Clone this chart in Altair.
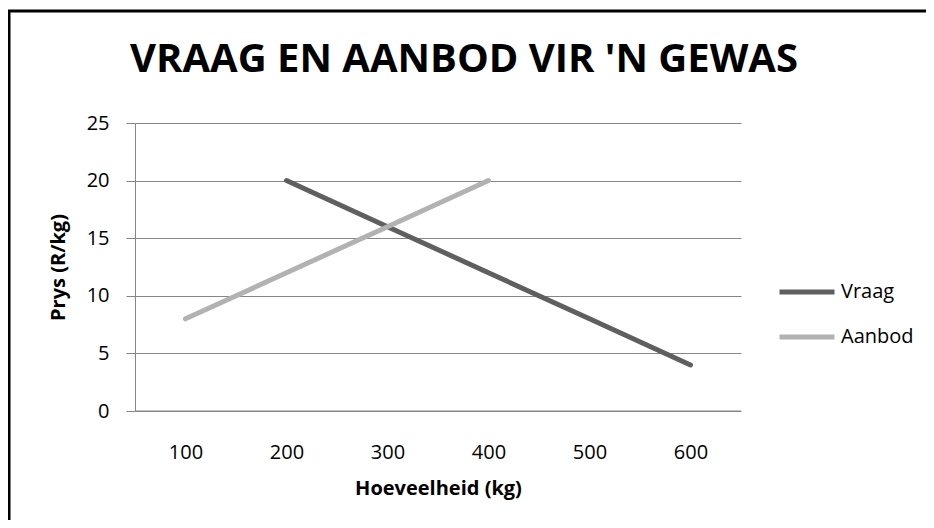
import altair as alt
import pandas as pd

categories = ["100", "200", "300", "400", "500", "600"]
vraag_x = ["200", "300", "400", "500", "600"]
vraag_y = [20, 16, 12, 8, 4]
aanbod_x = ["100", "200", "300", "400"]
aanbod_y = [8, 12, 16, 20]
series = ["Vraag", "Aanbod"]
colors = ["#5f5f5f", "#b2b2b2"]
title_text = "VRAAG EN AANBOD VIR 'N GEWAS"

rows = []
for x, y in zip(vraag_x, vraag_y):
    rows.append({"q": x, "p": y, "s": "Vraag"})
for x, y in zip(aanbod_x, aanbod_y):
    rows.append({"q": x, "p": y, "s": "Aanbod"})
df = pd.DataFrame(rows)

FONT = "Open Sans"
FS = 20

lines = alt.Chart(df).mark_line(strokeWidth=5, strokeCap="round").encode(
    x=alt.X("q:O", sort=categories, scale=alt.Scale(domain=categories, paddingInner=0, paddingOuter=0.5),
            axis=alt.Axis(title="Hoeveelheid (kg)", labelAngle=0, ticks=False, domain=False,
                          labelPadding=31, titlePadding=16, labelFontSize=FS, titleFontSize=FS,
                          titleFontWeight="bold", labelColor="#000", titleColor="#000",
                          labelFont=FONT, titleFont=FONT)),
    y=alt.Y("p:Q", scale=alt.Scale(domain=[0, 25], nice=False),
            axis=alt.Axis(title="Prys (R/kg)", values=[0, 5, 10, 15, 20, 25], tickSize=9,
                          tickColor="#868686", domainColor="#868686", gridColor="#868686",
                          grid=True, labelPadding=17, labelFontSize=FS, titleFontSize=FS,
                          titleFontWeight="bold", titlePadding=18, labelColor="#000",
                          titleColor="#000", labelFont=FONT, titleFont=FONT)),
    color=alt.Color("s:N", scale=alt.Scale(domain=series, range=colors),
                    legend=alt.Legend(title=None, orient="none", legendX=642, legendY=139,
                                      symbolType="M-1,0H1", symbolSize=3025, symbolStrokeWidth=5,
                                      labelFontSize=FS, labelFont=FONT, labelColor="#000",
                                      rowPadding=5, labelOffset=4)),
)

xaxis_line = alt.Chart(pd.DataFrame({"p": [0]})).mark_rule(color="#868686", strokeWidth=1).encode(
    y="p:Q", x=alt.value(0), x2=alt.value(606)
)

frame = alt.Chart(pd.DataFrame({"a": [0]})).mark_rect(
    fill=None, stroke="#000", strokeWidth=3, clip=False
).encode(x=alt.value(-126), x2=alt.value(900), y=alt.value(-112), y2=alt.value(600))

title = alt.Chart(pd.DataFrame({"t": [title_text]})).mark_text(
    font=FONT, fontSize=40, fontWeight="bold", color="#000", align="center",
    baseline="alphabetic", clip=False
).encode(text="t:N", x=alt.value(329), y=alt.value(-51))

chart = alt.layer(frame, title, lines, xaxis_line).properties(
    width=606, height=288,
    autosize=alt.AutoSizeParams(type="none"),
    padding={"left": 127, "top": 115, "right": 185, "bottom": 109},
).configure_view(stroke=None).configure_axisY(domain=True)

chart.save("out.html", embed_options={"renderer": "svg", "actions": False})
